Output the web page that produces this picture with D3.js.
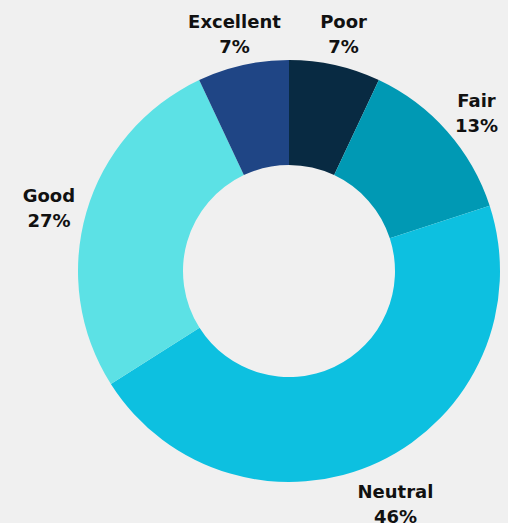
<!DOCTYPE html>
<html>
<head>
<meta charset="utf-8">
<script src="https://cdn.jsdelivr.net/npm/d3@7"></script>
<style>
  html, body { margin: 0; padding: 0; background: #f0f0f0; }
  svg { display: block; }
  .lbl { font-family: "DejaVu Sans", "Open Sans", sans-serif; font-weight: 700; font-size: 18px; fill: #111; }
</style>
</head>
<body>
<div class="vis-donut"></div>
<script>
// data
const categories = ['Poor', 'Fair', 'Neutral', 'Good', 'Excellent'];
const values = [7, 13, 46, 27, 7];
const colors = ['#082a42', '#0099b4', '#0dc0e0', '#5ce1e5', '#1f4585'];

const width = 508;
const height = 523;
const cx = 289, cy = 271;
const outerR = 211;
const innerR = 106;
const labelR = 250;

const svg = d3.select('.vis-donut').append('svg')
  .attr('width', width).attr('height', height);

const g = svg.append('g').attr('transform', `translate(${cx},${cy})`);

const rows = categories.map((c, i) => ({ name: c, value: values[i], color: colors[i] }));

const pie = d3.pie().sort(null).value(d => d.value);
const arcs = pie(rows);

const arc = d3.arc().innerRadius(innerR).outerRadius(outerR);
const labelArc = d3.arc().innerRadius(labelR).outerRadius(labelR);

g.selectAll('path')
  .data(arcs)
  .enter()
  .append('path')
  .attr('d', arc)
  .attr('fill', d => d.data.color);

// labels: name + percent, centred on the label arc
const lbl = g.selectAll('text')
  .data(arcs)
  .enter()
  .append('text')
  .attr('class', 'lbl')
  .attr('text-anchor', 'middle')
  .attr('transform', d => `translate(${labelArc.centroid(d)})`);

lbl.append('tspan').attr('x', 0).attr('y', 1).text(d => d.data.name);
lbl.append('tspan').attr('x', 0).attr('y', 26).text(d => d.data.value + '%');
</script>
</body>
</html>
